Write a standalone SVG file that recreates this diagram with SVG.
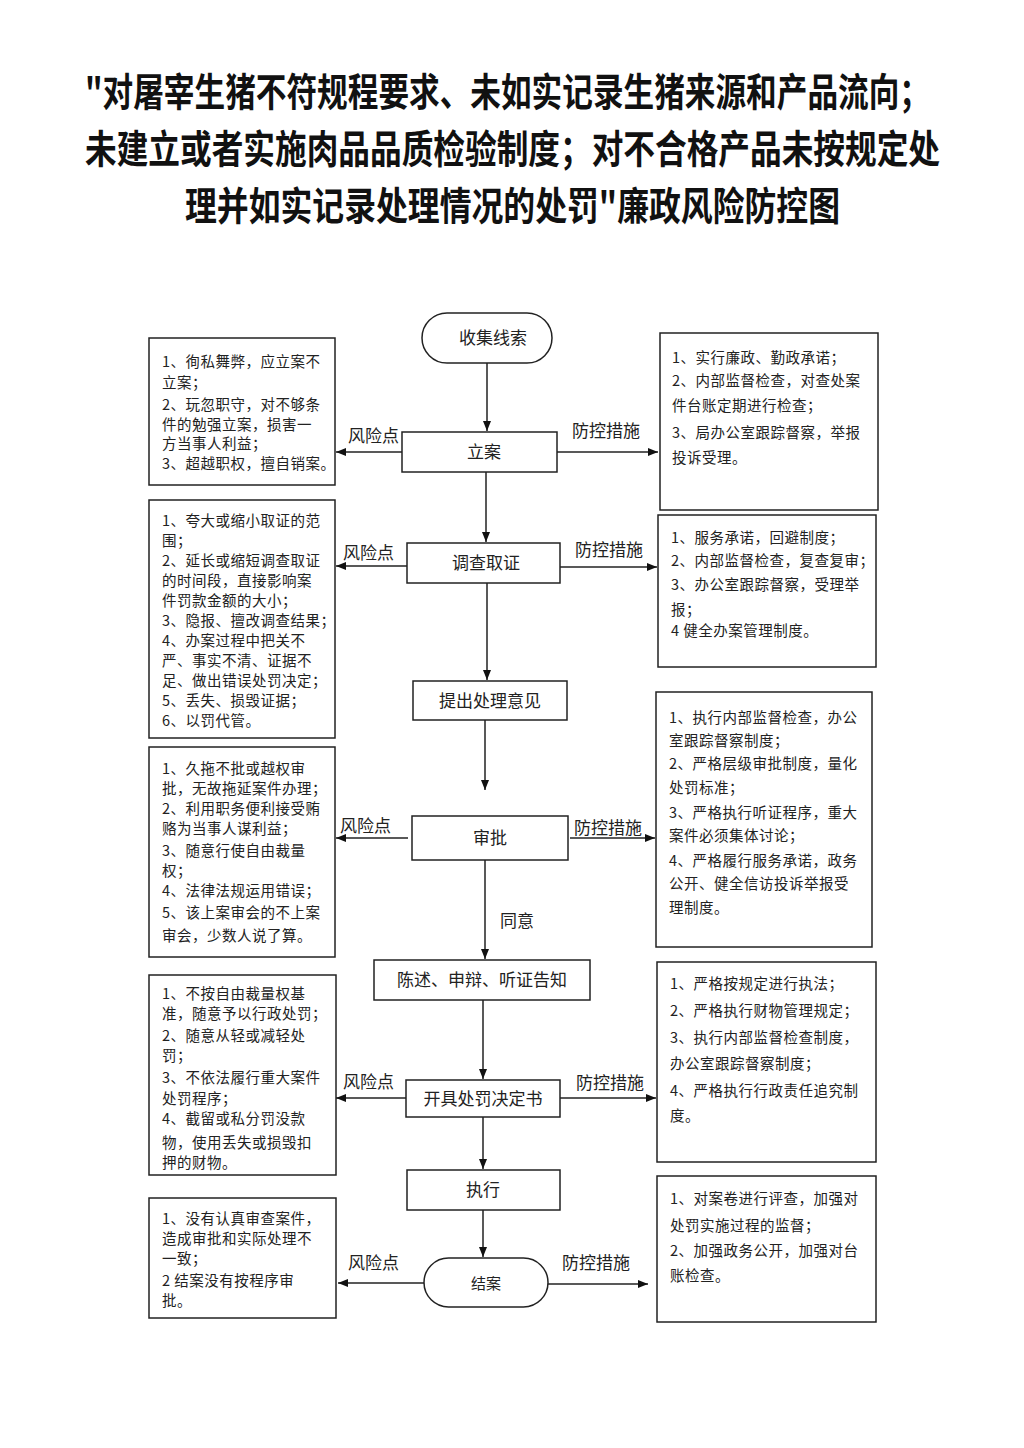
<svg xmlns="http://www.w3.org/2000/svg" width="1024" height="1448" viewBox="0 0 1024 1448">
<defs>
<marker id="ah" viewBox="0 0 10 8" refX="10" refY="4" markerWidth="10" markerHeight="8" markerUnits="userSpaceOnUse" orient="auto">
<path d="M0,0 L10,4 L0,8 z" fill="#111"/>
</marker>
</defs>
<style>
.title{font-family:"Noto Sans CJK SC","Noto Sans CJK TC",sans-serif;font-weight:700;font-size:32px;fill:#111}
.box{fill:#fff;stroke:#222;stroke-width:1.5}
.node{font-family:"Noto Sans CJK SC",sans-serif;font-size:17px;fill:#222;text-anchor:middle}
.lbl{font-family:"Noto Sans CJK SC",sans-serif;font-size:17px;fill:#222}
.t{font-family:"Noto Sans CJK SC",sans-serif;font-size:14.5px;fill:#222;letter-spacing:0.5px}
.ln{stroke:#222;stroke-width:1.5;fill:none}
</style>
<rect width="1024" height="1448" fill="#fff"/>
<g id="title" transform="scale(1,1.2)">
<text class="title" x="85" y="88.5" textLength="845" lengthAdjust="spacingAndGlyphs">"对屠宰生猪不符规程要求、未如实记录生猪来源和产品流向；</text>
<text class="title" x="85" y="136" textLength="855" lengthAdjust="spacingAndGlyphs">未建立或者实施肉品品质检验制度；对不合格产品未按规定处</text>
<text class="title" x="185" y="183.5" textLength="655" lengthAdjust="spacingAndGlyphs">理并如实记录处理情况的处罚"廉政风险防控图</text>
</g>

<g id="connectors">
<line class="ln" x1="487" y1="363" x2="487" y2="431" marker-end="url(#ah)"/>
<line class="ln" x1="486" y1="472" x2="486" y2="542" marker-end="url(#ah)"/>
<line class="ln" x1="487" y1="583" x2="487" y2="680" marker-end="url(#ah)"/>
<line class="ln" x1="485" y1="720" x2="485" y2="790" marker-end="url(#ah)"/>
<line class="ln" x1="485" y1="860" x2="485" y2="959" marker-end="url(#ah)"/>
<line class="ln" x1="483" y1="1000" x2="483" y2="1079" marker-end="url(#ah)"/>
<line class="ln" x1="483" y1="1117" x2="483" y2="1169" marker-end="url(#ah)"/>
<line class="ln" x1="483" y1="1210" x2="483" y2="1257" marker-end="url(#ah)"/>
<line class="ln" x1="402" y1="452" x2="336" y2="452" marker-end="url(#ah)"/>
<line class="ln" x1="557" y1="452" x2="658" y2="452" marker-end="url(#ah)"/>
<line class="ln" x1="407" y1="566" x2="336" y2="566" marker-end="url(#ah)"/>
<line class="ln" x1="560" y1="567" x2="657" y2="567" marker-end="url(#ah)"/>
<line class="ln" x1="408" y1="838" x2="336" y2="838" marker-end="url(#ah)"/>
<line class="ln" x1="570" y1="838" x2="655" y2="838" marker-end="url(#ah)"/>
<line class="ln" x1="406" y1="1098" x2="336" y2="1098" marker-end="url(#ah)"/>
<line class="ln" x1="560" y1="1098" x2="656" y2="1098" marker-end="url(#ah)"/>
<line class="ln" x1="424" y1="1283" x2="338" y2="1283" marker-end="url(#ah)"/>
<line class="ln" x1="548" y1="1284" x2="648" y2="1284" marker-end="url(#ah)"/>
<text class="lbl" x="348" y="442">风险点</text>
<text class="lbl" x="572" y="437">防控措施</text>
<text class="lbl" x="343" y="559">风险点</text>
<text class="lbl" x="575" y="556">防控措施</text>
<text class="lbl" x="340" y="832">风险点</text>
<text class="lbl" x="574" y="834">防控措施</text>
<text class="lbl" x="343" y="1088">风险点</text>
<text class="lbl" x="576" y="1089">防控措施</text>
<text class="lbl" x="348" y="1269">风险点</text>
<text class="lbl" x="562" y="1269">防控措施</text>
<text class="lbl" x="500" y="927">同意</text>
</g>

<g id="n-shouji"><rect class="box" x="422" y="313" width="130" height="50" rx="25"/><text class="node" x="493" y="344">收集线索</text></g>
<g id="n-lian"><rect class="box" x="402" y="432" width="155" height="40"/><text class="node" x="484" y="458">立案</text></g>
<g id="n-diaocha"><rect class="box" x="407" y="543" width="153" height="40"/><text class="node" x="486" y="569">调查取证</text></g>
<g id="n-tichu"><rect class="box" x="413" y="681" width="154" height="39"/><text class="node" x="490" y="707">提出处理意见</text></g>
<g id="n-shenpi"><rect class="box" x="412" y="816" width="156" height="44"/><text class="node" x="490" y="844">审批</text></g>
<g id="n-chenshu"><rect class="box" x="374" y="960" width="216" height="40"/><text class="node" x="482" y="986">陈述、申辩、听证告知</text></g>
<g id="n-kaiju"><rect class="box" x="406" y="1080" width="154" height="37"/><text class="node" x="483" y="1105">开具处罚决定书</text></g>
<g id="n-zhixing"><rect class="box" x="407" y="1170" width="153" height="40"/><text class="node" x="483" y="1196">执行</text></g>
<g id="n-jiean"><rect class="box" x="424" y="1258" width="124" height="49" rx="24.5"/><text class="node" x="486" y="1289" style="font-size:15px">结案</text></g>

<g id="risk-1"><rect class="box" x="149" y="338" width="186" height="147"/>
<text class="t" x="162" y="367">1、徇私舞弊，应立案不</text>
<text class="t" x="162" y="388">立案；</text>
<text class="t" x="162" y="410">2、玩忽职守，对不够条</text>
<text class="t" x="162" y="430">件的勉强立案，损害一</text>
<text class="t" x="162" y="449">方当事人利益；</text>
<text class="t" x="162" y="469">3、超越职权，擅自销案。</text>
</g>
<g id="risk-2"><rect class="box" x="149" y="500" width="186" height="238"/>
<text class="t" x="162" y="526">1、夸大或缩小取证的范</text>
<text class="t" x="162" y="546">围；</text>
<text class="t" x="162" y="566">2、延长或缩短调查取证</text>
<text class="t" x="162" y="586">的时间段，直接影响案</text>
<text class="t" x="162" y="606">件罚款金额的大小；</text>
<text class="t" x="162" y="626">3、隐报、擅改调查结果；</text>
<text class="t" x="162" y="646">4、办案过程中把关不</text>
<text class="t" x="162" y="666">严、事实不清、证据不</text>
<text class="t" x="162" y="686">足、做出错误处罚决定；</text>
<text class="t" x="162" y="706">5、丢失、损毁证据；</text>
<text class="t" x="162" y="726">6、以罚代管。</text>
</g>
<g id="risk-3"><rect class="box" x="149" y="747" width="186" height="210"/>
<text class="t" x="162" y="774">1、久拖不批或越权审</text>
<text class="t" x="162" y="794">批，无故拖延案件办理；</text>
<text class="t" x="162" y="814">2、利用职务便利接受贿</text>
<text class="t" x="162" y="834">赂为当事人谋利益；</text>
<text class="t" x="162" y="856">3、随意行使自由裁量</text>
<text class="t" x="162" y="876">权；</text>
<text class="t" x="162" y="896">4、法律法规运用错误；</text>
<text class="t" x="162" y="918">5、该上案审会的不上案</text>
<text class="t" x="162" y="941">审会，少数人说了算。</text>
</g>
<g id="risk-4"><rect class="box" x="149" y="975" width="187" height="200"/>
<text class="t" x="162" y="999">1、不按自由裁量权基</text>
<text class="t" x="162" y="1019">准，随意予以行政处罚；</text>
<text class="t" x="162" y="1041">2、随意从轻或减轻处</text>
<text class="t" x="162" y="1061">罚；</text>
<text class="t" x="162" y="1083">3、不依法履行重大案件</text>
<text class="t" x="162" y="1104">处罚程序；</text>
<text class="t" x="162" y="1124">4、截留或私分罚没款</text>
<text class="t" x="162" y="1148">物，使用丢失或损毁扣</text>
<text class="t" x="162" y="1168">押的财物。</text>
</g>
<g id="risk-5"><rect class="box" x="149" y="1198" width="187" height="120"/>
<text class="t" x="162" y="1224">1、没有认真审查案件，</text>
<text class="t" x="162" y="1244">造成审批和实际处理不</text>
<text class="t" x="162" y="1264">一致；</text>
<text class="t" x="162" y="1286">2 结案没有按程序审</text>
<text class="t" x="162" y="1306">批。</text>
</g>

<g id="ctrl-1"><rect class="box" x="660" y="333" width="218" height="177"/>
<text class="t" x="672" y="363">1、实行廉政、勤政承诺；</text>
<text class="t" x="672" y="386">2、内部监督检查，对查处案</text>
<text class="t" x="672" y="411">件台账定期进行检查；</text>
<text class="t" x="672" y="438">3、局办公室跟踪督察，举报</text>
<text class="t" x="672" y="463">投诉受理。</text>
</g>
<g id="ctrl-2"><rect class="box" x="658" y="515" width="218" height="152"/>
<text class="t" x="671" y="543">1、服务承诺，回避制度；</text>
<text class="t" x="671" y="566">2、内部监督检查，复查复审；</text>
<text class="t" x="671" y="590">3、办公室跟踪督察，受理举</text>
<text class="t" x="671" y="615">报；</text>
<text class="t" x="671" y="636">4 健全办案管理制度。</text>
</g>
<g id="ctrl-3"><rect class="box" x="656" y="692" width="216" height="255"/>
<text class="t" x="669" y="723">1、执行内部监督检查，办公</text>
<text class="t" x="669" y="746">室跟踪督察制度；</text>
<text class="t" x="669" y="769">2、严格层级审批制度，量化</text>
<text class="t" x="669" y="793">处罚标准；</text>
<text class="t" x="669" y="818">3、严格执行听证程序，重大</text>
<text class="t" x="669" y="841">案件必须集体讨论；</text>
<text class="t" x="669" y="866">4、严格履行服务承诺，政务</text>
<text class="t" x="669" y="889">公开、健全信访投诉举报受</text>
<text class="t" x="669" y="913">理制度。</text>
</g>
<g id="ctrl-4"><rect class="box" x="657" y="962" width="219" height="200"/>
<text class="t" x="670" y="989">1、严格按规定进行执法；</text>
<text class="t" x="670" y="1016">2、严格执行财物管理规定；</text>
<text class="t" x="670" y="1043">3、执行内部监督检查制度，</text>
<text class="t" x="670" y="1069">办公室跟踪督察制度；</text>
<text class="t" x="670" y="1096">4、严格执行行政责任追究制</text>
<text class="t" x="670" y="1121">度。</text>
</g>
<g id="ctrl-5"><rect class="box" x="657" y="1176" width="219" height="146"/>
<text class="t" x="670" y="1204">1、对案卷进行评查，加强对</text>
<text class="t" x="670" y="1231">处罚实施过程的监督；</text>
<text class="t" x="670" y="1256">2、加强政务公开，加强对台</text>
<text class="t" x="670" y="1281">账检查。</text>
</g>
</svg>
